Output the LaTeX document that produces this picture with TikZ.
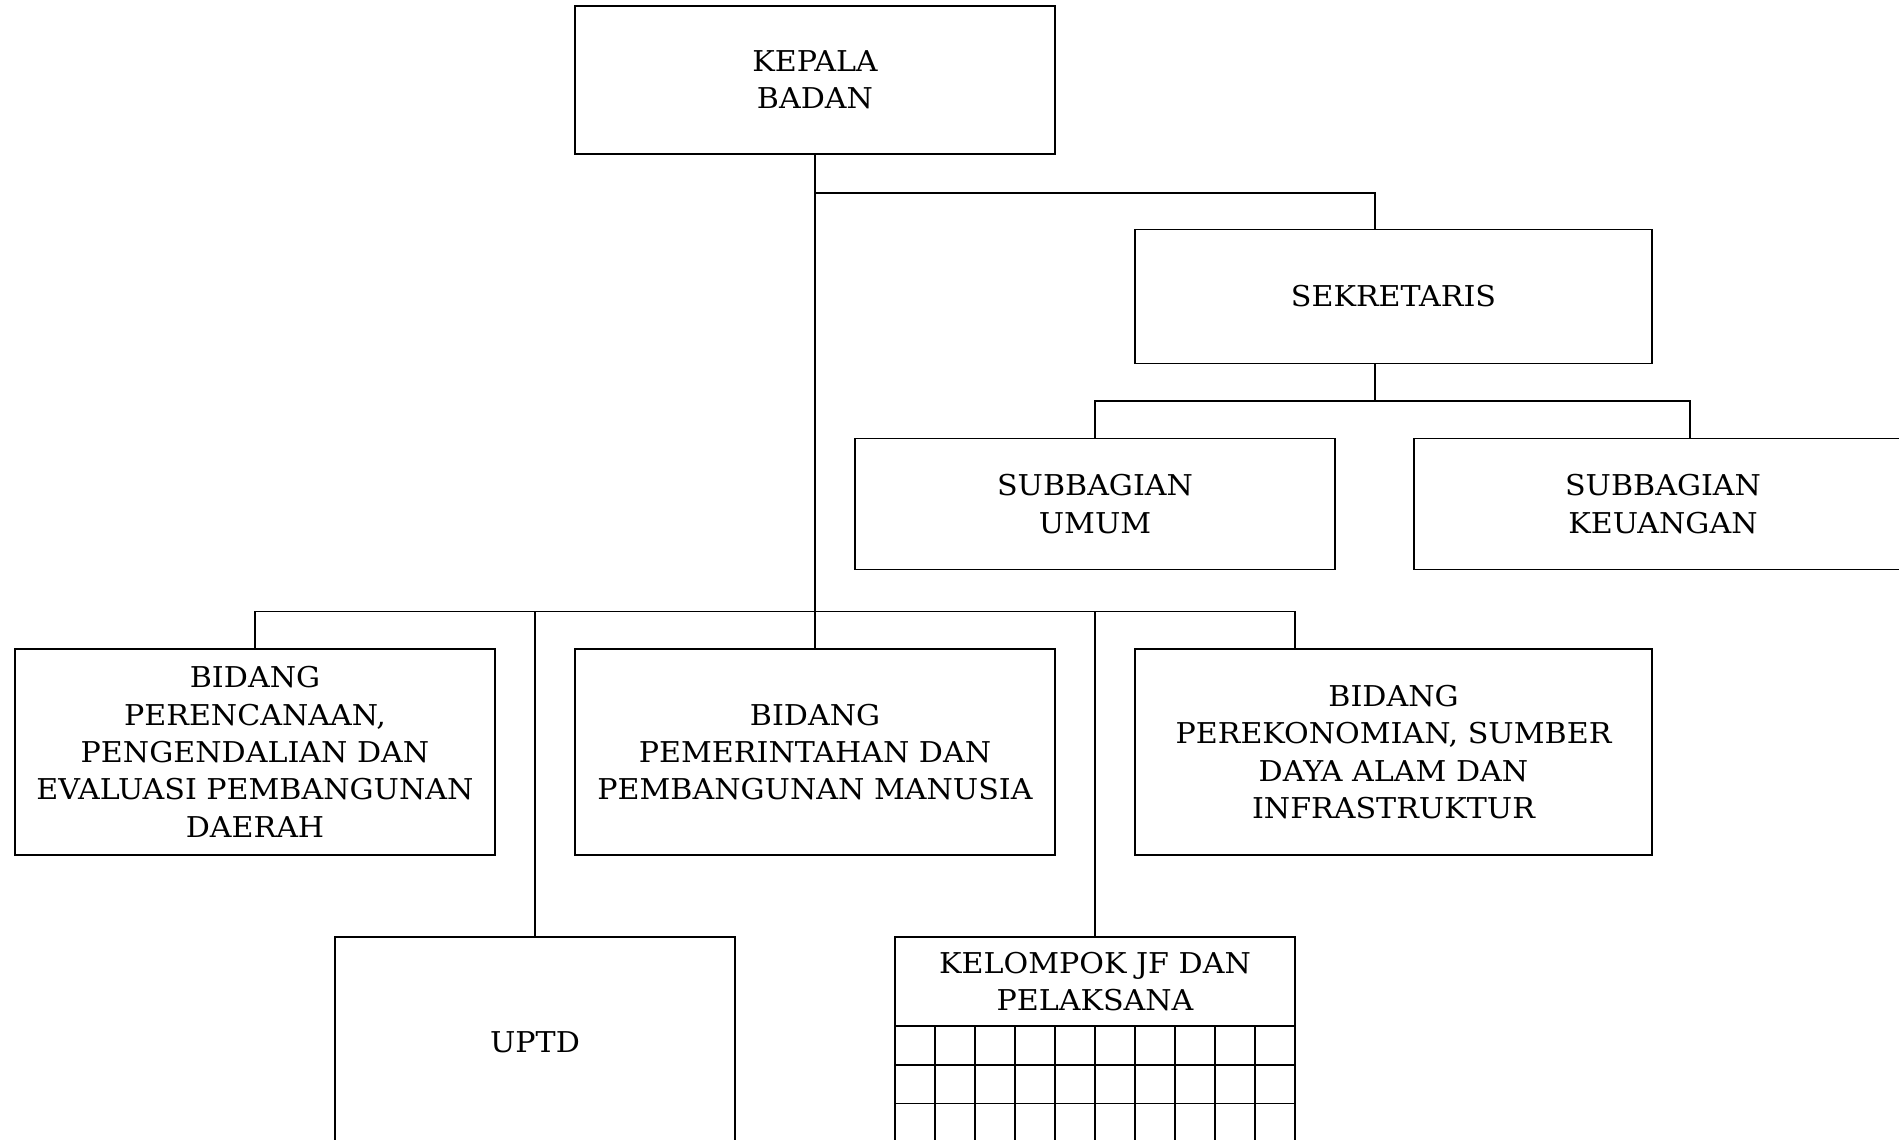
\documentclass[tikz,border=0pt]{standalone}
\usepackage{fontspec}
\setmainfont[FakeStretch=1.05]{DejaVu Serif}
\begin{document}
\begin{tikzpicture}[x=0.75pt,y=-0.75pt,
  box/.style={draw, line width=1.4pt, inner sep=0pt, align=center,
    font=\fontsize{21.5pt}{28pt}\selectfont},
  conn/.style={line width=1.4pt}]
\useasboundingbox (0,0) rectangle (1899,1139);
% top
\node[box, minimum width=480*0.75pt, minimum height=148*0.75pt] (kepala) at (815,80) {KEPALA\\BADAN};
\node[box, minimum width=517*0.75pt, minimum height=134*0.75pt] (sek) at (1393.5,296.5) {SEKRETARIS};
\node[box, minimum width=480*0.75pt, minimum height=131*0.75pt] (umum) at (1095,504) {SUBBAGIAN\\UMUM};
\node[box, minimum width=498*0.75pt, minimum height=131*0.75pt] (keu) at (1663,504) {SUBBAGIAN\\KEUANGAN};
% bidang row
\node[box, minimum width=480*0.75pt, minimum height=206*0.75pt] (bidl) at (255,752) {BIDANG\\PERENCANAAN,\\PENGENDALIAN DAN\\EVALUASI PEMBANGUNAN\\DAERAH};
\node[box, minimum width=480*0.75pt, minimum height=206*0.75pt] (bidm) at (815,752) {BIDANG\\PEMERINTAHAN DAN\\PEMBANGUNAN MANUSIA};
\node[box, minimum width=517*0.75pt, minimum height=206*0.75pt] (bidr) at (1393.5,752) {BIDANG\\PEREKONOMIAN, SUMBER\\DAYA ALAM DAN\\INFRASTRUKTUR};
% bottom row
\node[box, minimum width=400*0.75pt, minimum height=210*0.75pt] (uptd) at (535,1042) {UPTD};
\node[box, minimum width=400*0.75pt, minimum height=89*0.75pt] (kel) at (1095,981.5) {KELOMPOK JF DAN\\PELAKSANA};
% grid under kelompok
\foreach \i in {1,...,9} \draw[conn] (895+40*\i,1026) -- (895+40*\i,1150);
\draw[conn] (895,1026) -- (895,1150);
\draw[conn] (1295,1026) -- (1295,1150);
\foreach \yy in {1065,1103.5,1142} \draw[conn] (895,\yy) -- (1295,\yy);
% connectors
\coordinate (jsek) at (815,193);
\coordinate (sekin) at (1375,229);
\coordinate (sekout) at (1375,363);
\coordinate (ssbus) at (1375,401);
\coordinate (keuin) at (1690,438);
\coordinate (bbus) at (815,611.5);
\coordinate (rdrop) at (1294.7,649);
\draw[conn] (kepala.south) -- (bidm.north);
\draw[conn] (jsek) -| (sekin);
\draw[conn] (sekout) -- (ssbus);
\draw[conn] (umum.north) |- (ssbus) -| (keuin);
\draw[conn] (bidl.north) |- (rdrop |- bbus) -- (rdrop);
\draw[conn] (uptd.north) -- (uptd.north |- bbus);
\draw[conn] (kel.north) -- (kel.north |- bbus);
\end{tikzpicture}
\end{document}
